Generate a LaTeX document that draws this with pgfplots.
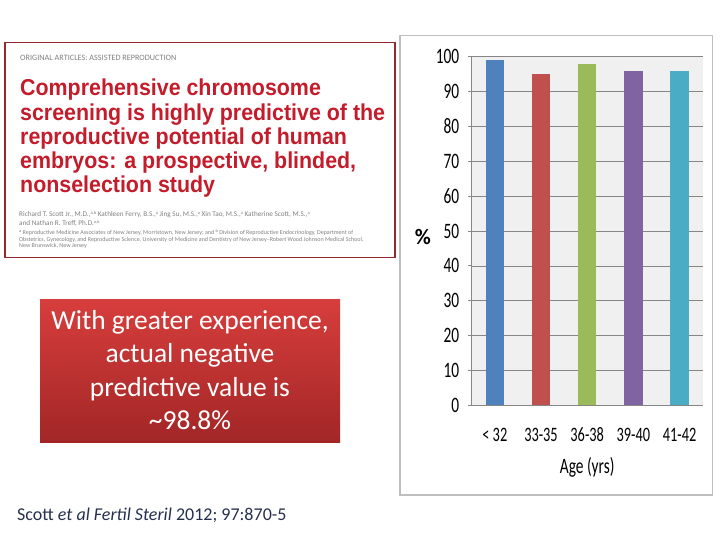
\documentclass[border=0pt]{standalone}
\usepackage{pgfplots}
\pgfplotsset{compat=1.18}
\usepackage{fontspec}
\setmainfont{Carlito}
\newfontfamily\chartfont[FakeStretch=0.7]{Carlito}
\newfontfamily\titlefont[FakeStretch=0.93]{Liberation Sans}
\definecolor{c1}{HTML}{4F81BD}
\definecolor{c2}{HTML}{C0504D}
\definecolor{c3}{HTML}{9BBB59}
\definecolor{c4}{HTML}{8064A2}
\definecolor{c5}{HTML}{4BACC6}
\definecolor{frameRed}{RGB}{150,40,45}
\definecolor{titleRed}{RGB}{196,28,42}
\definecolor{boxTop}{RGB}{214,62,60}
\definecolor{boxBot}{RGB}{162,38,38}
\definecolor{citeCol}{RGB}{38,48,78}
\definecolor{frameGray}{RGB}{190,190,190}
\definecolor{bgGray}{RGB}{240,240,240}
\definecolor{axGray}{RGB}{134,134,134}
\newcommand{\aff}[1]{\raisebox{2pt}{\fontsize{4.5}{5}\selectfont #1}}
\begin{document}
\begin{tikzpicture}[x=1pt,y=1pt]
\fill[white] (0,0) rectangle (720,540);
% ---- article image ----
\draw[color=frameRed, line width=1.3pt] (5,497.3) rectangle (395,282.3);
\node[anchor=base west, inner sep=0, text=gray] at (20,479) {\fontsize{8.2}{9}\selectfont ORIGINAL ARTICLES: ASSISTED REPRODUCTION};
\begin{scope}[every node/.style={anchor=base west, inner sep=0, text=titleRed, font=\titlefont\bfseries\fontsize{23}{24}\selectfont}]
\node at (20,444) {Comprehensive chromosome};
\node at (20,419.75) {screening is highly predictive of the};
\node at (20,395.5) {reproductive potential of human};
\node at (20,371.25) {embryos: a prospective, blinded,};
\node at (20,347) {nonselection study};
\end{scope}
\begin{scope}[every node/.style={anchor=base west, inner sep=0, text=gray, font=\fontsize{7.2}{7.5}\selectfont}]
\node at (19,323) {Richard T. Scott Jr., M.D.,\aff{a,b} Kathleen Ferry, B.S.,\aff{a} Jing Su, M.S.,\aff{a} Xin Tao, M.S.,\aff{a} Katherine Scott, M.S.,\aff{a}};
\node at (19,314.5) {and Nathan R. Treff, Ph.D.\aff{a,b}};
\node[font=\fontsize{6}{6.5}\selectfont] at (19,305) {\aff{a} Reproductive Medicine Associates of New Jersey, Morristown, New Jersey; and \aff{b} Division of Reproductive Endocrinology, Department of};
\node[font=\fontsize{6}{6.5}\selectfont] at (19,298.5) {Obstetrics, Gynecology, and Reproductive Science, University of Medicine and Dentistry of New Jersey--Robert Wood Johnson Medical School,};
\node[font=\fontsize{6}{6.5}\selectfont] at (19,292) {New Brunswick, New Jersey};
\end{scope}
% ---- red box ----
\shade[top color=boxTop, bottom color=boxBot] (40,240) rectangle (340,97.3);
\begin{scope}[every node/.style={anchor=base, inner sep=0, text=white, font=\fontsize{27.5}{30}\selectfont}]
\node at (190,210) {With greater experience,};
\node at (190,177.3) {actual negative};
\node at (190,143.3) {predictive value is};
\node at (190,110) {\textasciitilde98.8\%};
\end{scope}
% ---- citation ----
\node[anchor=base west, inner sep=0, text=citeCol, font=\fontsize{18}{19}\selectfont] at (17,19.3) {Scott \textit{et al Fertil Steril} 2012; 97:870-5};
% ---- chart frame ----
\draw[color=frameGray, line width=1.2pt] (400,504.3) rectangle (712.7,45);
\begin{axis}[
  at={(471.7pt,134.7pt)}, anchor=south west,
  width=231pt, height=348.6pt, scale only axis,
  xmin=-0.5, xmax=4.5, ymin=0, ymax=100,
  axis background/.style={fill=bgGray},
  axis x line*=bottom, axis y line*=left,
  axis line style={draw=axGray, line width=0.8pt},
  ytick={0,10,...,100},
  ymajorgrids, grid style={draw=axGray, line width=0.6pt},
  xtick={0,1,2,3,4},
  xticklabels={< 32, 33-35, 36-38, 39-40, 41-42},
  x tick style={draw=none},
  extra x ticks={-0.5,0.5,1.5,2.5,3.5,4.5},
  extra x tick labels={},
  extra x tick style={tick style={draw=axGray, line width=0.8pt}, major tick length=4pt, tick align=outside},
  y tick style={draw=axGray, line width=0.8pt},
  tick align=outside, major tick length=4pt,
  /pgf/number format/assume math mode=true,
  yticklabel style={font=\chartfont\fontsize{22}{22}\selectfont, anchor=east, xshift=-5pt},
  xticklabel style={font=\chartfont\fontsize{20.5}{20}\selectfont, anchor=base, yshift=-32pt},
  ylabel={\%},
  ylabel style={rotate=-90, font=\bfseries\fontsize{22}{22}\selectfont, at={(axis description cs:-0.211,0.484)}, anchor=center},
  xlabel={Age (yrs)},
  xlabel style={font=\chartfont\fontsize{22}{22}\selectfont, at={(axis description cs:0.5,-0.195)}, anchor=base},
]
\addplot[ybar, bar width=18.4pt, fill=c1, draw=none] coordinates {(0,99)};
\addplot[ybar, bar width=18.4pt, fill=c2, draw=none] coordinates {(1,95)};
\addplot[ybar, bar width=18.4pt, fill=c3, draw=none] coordinates {(2,98)};
\addplot[ybar, bar width=18.4pt, fill=c4, draw=none] coordinates {(3,96)};
\addplot[ybar, bar width=18.4pt, fill=c5, draw=none] coordinates {(4,96)};
\end{axis}
\end{tikzpicture}
\end{document}
